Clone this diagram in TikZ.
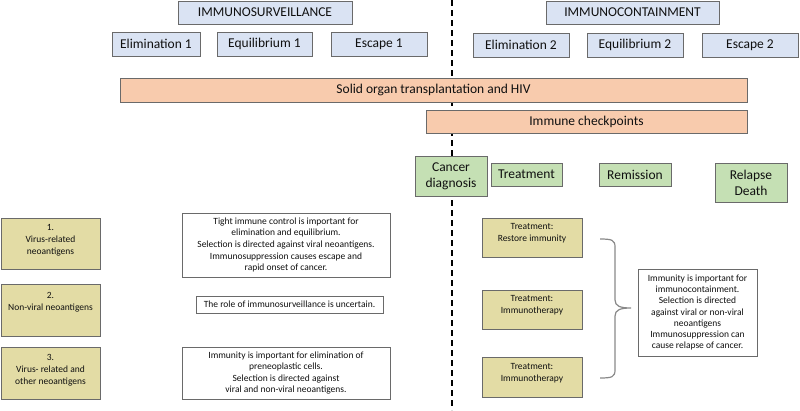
\documentclass[tikz,border=0pt]{standalone}
\usepackage{fontspec}
\setmainfont{Carlito}
\definecolor{bluefill}{HTML}{DAE3F3}
\definecolor{salmon}{HTML}{F8CBAD}
\definecolor{greenfill}{HTML}{C5E0B4}
\definecolor{tanfill}{HTML}{E3DCA5}
\definecolor{edge}{HTML}{6A6A6A}
\definecolor{txt}{HTML}{101010}
\tikzset{
  base/.style={draw=edge, line width=1pt, inner sep=0pt, outer sep=0pt, text=txt, align=center},
  bluebox/.style={base, fill=bluefill, font=\fontsize{13.5}{15}\selectfont},
  salbox/.style={base, fill=salmon, font=\fontsize{13.5}{15}\selectfont},
  grnbox/.style={base, fill=greenfill, font=\fontsize{13.5}{16}\selectfont},
  tanbox/.style={base, fill=tanfill},
  descbox/.style={base, fill=white, font=\fontsize{9.5}{11.6}\selectfont},
  small/.style={inner sep=0pt, outer sep=0pt, text=txt, align=center, font=\fontsize{9.5}{12}\selectfont},
}
\begin{document}
\begin{tikzpicture}[x=1pt, y=-1pt]
\useasboundingbox (0,0) rectangle (800,410);
% dashed divider
\coordinate (dtop) at (452,0);
\coordinate (dbot) at (452,410);
\draw[black, line width=1.8pt, dash pattern=on 6pt off 4pt] (dtop) -- (dbot);
% top blue boxes
\node[bluebox, minimum width=174, minimum height=23] (isv) at (265,12.5) {IMMUNOSURVEILLANCE};
\node[bluebox, minimum width=88, minimum height=24] (el1) at (156,44) {Elimination 1};
\node[bluebox, minimum width=95, minimum height=24] (eq1) at (264.5,44) {Equilibrium 1};
\node[bluebox, minimum width=96, minimum height=24] (es1) at (379,44) {Escape 1};
\node[bluebox, minimum width=173, minimum height=23] (icn) at (632.5,12.5) {IMMUNOCONTAINMENT};
\node[bluebox, minimum width=96, minimum height=24] (el2) at (521,45) {Elimination 2};
\node[bluebox, minimum width=96, minimum height=24] (eq2) at (635,45) {Equilibrium 2};
\node[bluebox, minimum width=96, minimum height=24] (es2) at (750,45) {Escape 2};
% salmon bars
\node[salbox, minimum width=627, minimum height=24] (sol) at (433.5,90) {Solid organ transplantation and HIV};
\node[salbox, minimum width=321, minimum height=23] (chk) at (586.5,121.5) {Immune checkpoints};
% green boxes
\node[grnbox, minimum width=72, minimum height=40] (cd) at (451,176) {Cancer\\diagnosis};
\node[grnbox, minimum width=71, minimum height=23] (tr) at (526.5,174.5) {Treatment};
\node[grnbox, minimum width=72, minimum height=23] (rem) at (635,174.5) {Remission};
\node[grnbox, minimum width=72, minimum height=39] (rd) at (751,182.5) {Relapse\\Death};
% left tan boxes
\node[tanbox, minimum width=99, minimum height=51] (n1) at (50.5,243.5) {};
\node[small, anchor=north] (n1t) at ([yshift=-6pt]n1.north) {1.\\Virus-related\\neoantigens};
\node[tanbox, minimum width=99, minimum height=52] (n2) at (50.5,310) {};
\node[small, anchor=north] (n2t) at ([yshift=-8pt]n2.north) {2.\\Non-viral neoantigens};
\node[tanbox, minimum width=99, minimum height=52] (n3) at (50.5,373) {};
\node[small, anchor=north] (n3t) at ([yshift=-7pt]n3.north) {3.\\Virus- related and\\other neoantigens};
% description boxes
\node[descbox, minimum width=208, minimum height=64] (d1) at (286,245) {Tight immune control is important for\\elimination and equilibrium.\\Selection is directed against viral neoantigens.\\Immunosuppression causes escape and\\rapid onset of cancer.};
\node[descbox, minimum width=187, minimum height=17] (d2) at (289.5,304.5) {The role of immunosurveillance is uncertain.};
\node[descbox, minimum width=208, minimum height=52] (d3) at (286,373) {Immunity is important for elimination of\\preneoplastic cells.\\Selection is directed against\\viral and non-viral neoantigens.};
% treatment boxes
\node[tanbox, minimum width=100, minimum height=39] (t1) at (532,237.5) {};
\node[small] (t1t) at ([yshift=4pt]t1.center) {Treatment:\\Restore immunity};
\node[tanbox, minimum width=100, minimum height=39] (t2) at (532,309.5) {};
\node[small] (t2t) at ([yshift=4pt]t2.center) {Treatment:\\Immunotherapy};
\node[tanbox, minimum width=100, minimum height=40] (t3) at (532,377) {};
\node[small] (t3t) at ([yshift=4pt]t3.center) {Treatment:\\Immunotherapy};
% right description
\node[descbox, minimum width=119, minimum height=87, font=\fontsize{9.5}{11.3}\selectfont] (rt) at (697.5,312.5) {Immunity is important for\\immunocontainment.\\Selection is directed\\against viral or non-viral\\neoantigens\\Immunosuppression can\\cause relapse of cancer.};
% brace
\coordinate (bt) at (600,239);
\coordinate (bb) at (600,378);
\coordinate (bp) at (631,308);
\draw[edge!80, line width=1.2pt] (bt) .. controls (612,239) and (615,240) .. (615,247)
  -- (615,300) .. controls (615,306) and (620,308) .. (bp)
  .. controls (620,308) and (615,310) .. (615,316)
  -- (615,370) .. controls (615,377) and (612,378) .. (bb);
\end{tikzpicture}
\end{document}
